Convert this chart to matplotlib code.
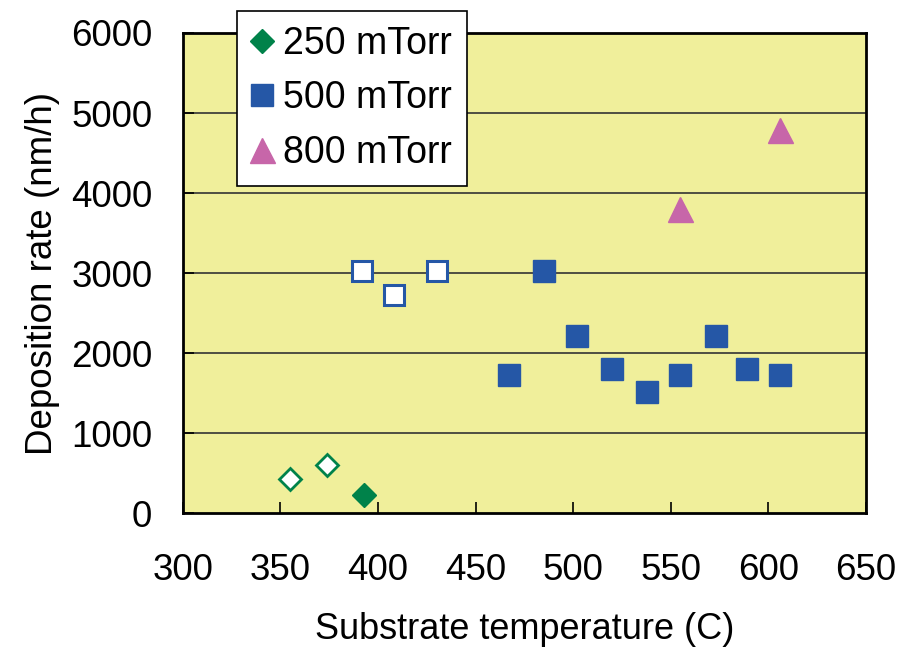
#!/usr/bin/env python3

import matplotlib
matplotlib.use('Agg')
import matplotlib.pyplot as plt

plt.rcParams['font.family'] = ['Liberation Sans', 'DejaVu Sans']

# 250 mTorr
t250_open = [355, 374]
r250_open = [430, 600]
t250_fill = [393]
r250_fill = [230]

# 500 mTorr
t500_open = [392, 408, 430]
r500_open = [3020, 2720, 3020]
t500_fill = [467, 485, 502, 520, 538, 555, 573, 589, 606]
r500_fill = [1720, 3020, 2210, 1800, 1510, 1720, 2210, 1800, 1720]

# 800 mTorr
t800 = [555, 606]
r800 = [3800, 4790]

xticks = [300, 350, 400, 450, 500, 550, 600, 650]
yticks = [0, 1000, 2000, 3000, 4000, 5000, 6000]

green = '#00824A'
blue = '#2557A6'
pink = '#C766A9'


def main():
    fig = plt.figure(figsize=(9.01, 6.47), dpi=100)
    ax = fig.add_axes([0.203, 0.207, 0.758, 0.742])
    ax.set_facecolor('#F0EF9B')

    for y in yticks[1:-1]:
        ax.axhline(y, color='#333333', lw=1.2, zorder=1)

    ax.plot(t250_fill, r250_fill, 'D', ms=12.5, color=green, mec=green,
            label='250 mTorr', zorder=3)
    ax.plot(t250_open, r250_open, 'D', ms=11.5, mfc='white', mec=green,
            mew=2, zorder=3)
    ax.plot(t500_fill, r500_fill, 's', ms=16, color=blue, mec=blue,
            label='500 mTorr', zorder=3)
    ax.plot(t500_open, r500_open, 's', ms=15, mfc='white', mec=blue,
            mew=2.2, zorder=3)
    ax.plot(t800, r800, '^', ms=18, color=pink, mec=pink,
            label='800 mTorr', zorder=3)

    ax.set_xlim(300, 650)
    ax.set_ylim(0, 6000)
    ax.set_xticks(xticks)
    ax.set_yticks(yticks)
    ax.tick_params(direction='in', length=8, width=1.2, labelsize=26.5)
    ax.tick_params(axis='x', pad=29)
    ax.tick_params(axis='y', pad=22)
    for s in ax.spines.values():
        s.set_linewidth(2)

    ax.set_xlabel('Substrate temperature (C)', fontsize=26, labelpad=17)
    ax.set_ylabel('Deposition rate (nm/h)', fontsize=26.5, labelpad=8)

    leg = ax.legend(loc='upper left', bbox_to_anchor=(0.263, 0.983),
                    bbox_transform=fig.transFigure, fontsize=27,
                    fancybox=False, framealpha=1, edgecolor='black',
                    handletextpad=0.3, handlelength=0.53, borderpad=0.4,
                    labelspacing=0.49, borderaxespad=0)
    leg.get_frame().set_linewidth(1.2)
    leg.set_zorder(5)

    plt.savefig('out.png', dpi=100)


if __name__ == '__main__':
    main()
